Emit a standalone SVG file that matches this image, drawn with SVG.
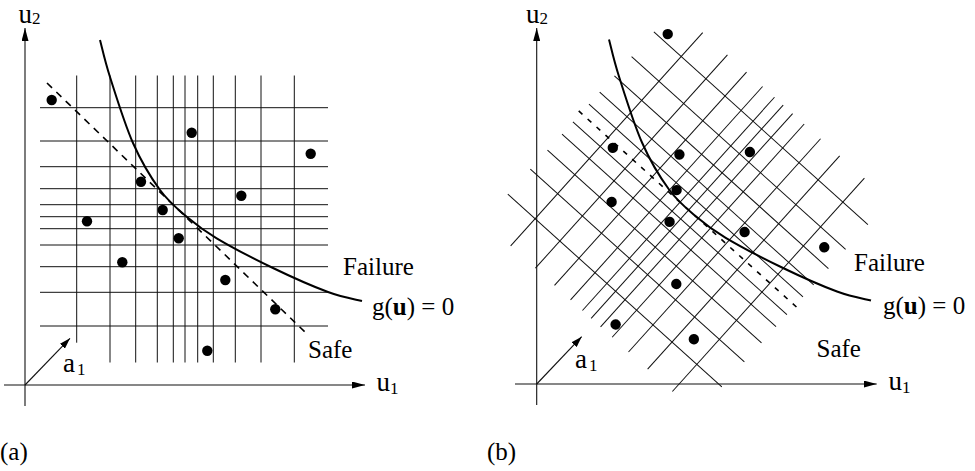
<svg xmlns="http://www.w3.org/2000/svg" width="975" height="471" viewBox="0 0 975 471">
<style>
.bg{fill:#fff}
.gl{stroke:#111;stroke-width:1;fill:none}
.ax{stroke:#111;stroke-width:1.1;fill:none}
.curve{stroke:#000;stroke-width:2;fill:none}
.dashL{stroke:#000;stroke-width:1.6;fill:none;stroke-dasharray:7 6}
.dashR{stroke:#000;stroke-width:1.6;fill:none;stroke-dasharray:5 7}
.dot{fill:#000}
text{font-family:"Liberation Serif","Times New Roman",serif;fill:#000}
.lbl{font-size:25px}
.var{font-size:27px}
.sub{font-size:17px}
</style>
<defs>
<marker id="arrow" viewBox="0 0 13 7" refX="13" refY="3.5" markerWidth="13" markerHeight="7" markerUnits="userSpaceOnUse" orient="auto">
<path d="M0,0 L13,3.5 L0,7 Z" fill="#000"/>
</marker>
<marker id="arrowS" viewBox="0 0 11 7" refX="11" refY="3.5" markerWidth="11" markerHeight="7" markerUnits="userSpaceOnUse" orient="auto">
<path d="M0,0 L11,3.5 L0,7 Z" fill="#000"/>
</marker>
<g id="gridlines" class="gl">
<line x1="110" y1="75.5" x2="110" y2="362.5"/>
<line x1="135.7" y1="75.5" x2="135.7" y2="362.5"/>
<line x1="157.3" y1="75.5" x2="157.3" y2="362.5"/>
<line x1="173.3" y1="75.5" x2="173.3" y2="362.5"/>
<line x1="185" y1="75.5" x2="185" y2="362.5"/>
<line x1="197.7" y1="75.5" x2="197.7" y2="362.5"/>
<line x1="213.3" y1="75.5" x2="213.3" y2="362.5"/>
<line x1="235.3" y1="75.5" x2="235.3" y2="362.5"/>
<line x1="261" y1="75.5" x2="261" y2="362.5"/>
<line x1="294.3" y1="75.5" x2="294.3" y2="362.5"/>
<line x1="40" y1="107.7" x2="328" y2="107.7"/>
<line x1="40" y1="141" x2="328" y2="141"/>
<line x1="40" y1="166.7" x2="328" y2="166.7"/>
<line x1="40" y1="188.7" x2="328" y2="188.7"/>
<line x1="40" y1="204.7" x2="328" y2="204.7"/>
<line x1="40" y1="228.7" x2="328" y2="228.7"/>
<line x1="40" y1="245" x2="328" y2="245"/>
<line x1="40" y1="266.7" x2="328" y2="266.7"/>
<line x1="40" y1="292.3" x2="328" y2="292.3"/>
<line x1="40" y1="326" x2="328" y2="326"/>
</g>
<g id="dots" class="dot">
<circle cx="51.7" cy="100" r="5.2"/>
<circle cx="191.7" cy="132.7" r="5.2"/>
<circle cx="310.7" cy="153.7" r="5.2"/>
<circle cx="141" cy="181.7" r="5.2"/>
<circle cx="241.3" cy="195.7" r="5.2"/>
<circle cx="162.7" cy="210" r="5.2"/>
<circle cx="87" cy="221.3" r="5.2"/>
<circle cx="178.7" cy="238.3" r="5.2"/>
<circle cx="122.3" cy="262.3" r="5.2"/>
<circle cx="225.3" cy="280" r="5.2"/>
<circle cx="275.3" cy="309.3" r="5.2"/>
<circle cx="207.3" cy="350.7" r="5.2"/>
</g>
<path id="limitcurve" d="M100,40 C101.7,46.2 104.5,59.8 110,77 C115.5,94.2 124.7,124.2 133,143 C141.3,161.8 151,177.7 160,190 C169,202.3 177.6,209 187,217 C196.5,225.1 202.4,229.8 216.7,238.3 C231,246.8 254.4,259 273,268 C291.6,277 313.2,286.5 328,292 C342.8,297.5 356.3,299.5 362,301"/>
</defs>
<rect class="bg" x="0" y="0" width="975" height="471"/>

<g id="panel-a">
<g id="grid-a">
<use href="#gridlines"/>
<line class="gl" x1="76.7" y1="75.5" x2="76.7" y2="342.7"/>
<line class="gl" x1="40" y1="216.7" x2="328" y2="216.7"/>
</g>
<use id="samples-a" href="#dots"/>
<line id="tangent-a" class="dashL" x1="47" y1="83" x2="306" y2="333"/>
<use id="limit-a" class="curve" href="#limitcurve"/>
<g id="axes-a">
<line class="ax" x1="25" y1="406" x2="25" y2="28" marker-end="url(#arrow)"/>
<line class="ax" x1="4" y1="385" x2="365" y2="385" marker-end="url(#arrow)"/>
<line class="ax" x1="25" y1="385" x2="70" y2="338.3" marker-end="url(#arrowS)"/>
</g>
<g id="labels-a">
<text class="var" font-family="Liberation Serif, serif" x="18.5" y="23">u<tspan class="sub" dy="1">2</tspan></text>
<text class="var" font-family="Liberation Serif, serif" x="376.5" y="391">u<tspan class="sub" dy="3">1</tspan></text>
<text class="var" font-family="Liberation Serif, serif" x="63" y="371.5">a<tspan class="sub" dy="3" dx="2">1</tspan></text>
<text class="lbl" font-family="Liberation Serif, serif" x="343" y="275">Failure</text>
<text class="lbl" font-family="Liberation Serif, serif" x="372" y="315">g(<tspan font-weight="bold">u</tspan>) = 0</text>
<text class="lbl" font-family="Liberation Serif, serif" x="308" y="358">Safe</text>
<text class="lbl" font-family="Liberation Serif, serif" font-size="22" x="0" y="460">(a)</text>
</g>
</g>

<g id="panel-b">
<g id="rotated-b" transform="translate(688.7,210) rotate(42) translate(-185,-216.7)">
<g id="grid-b">
<use href="#gridlines"/>
<line class="gl" x1="76.7" y1="75.5" x2="76.7" y2="362.5"/>
</g>
<line id="tangent-b" class="dashR" x1="37" y1="216.7" x2="330" y2="216.7"/>
<use id="samples-b" href="#dots"/>
</g>
<use id="limit-b" class="curve" href="#limitcurve" transform="translate(509,-0.5)"/>
<g id="axes-b">
<line class="ax" x1="536.7" y1="405" x2="536.7" y2="28" marker-end="url(#arrow)"/>
<line class="ax" x1="515" y1="384" x2="876.7" y2="384" marker-end="url(#arrow)"/>
<line class="ax" x1="536.7" y1="384" x2="581.7" y2="336.7" marker-end="url(#arrowS)"/>
</g>
<g id="labels-b">
<text class="var" font-family="Liberation Serif, serif" x="526" y="23">u<tspan class="sub" dy="1">2</tspan></text>
<text class="var" font-family="Liberation Serif, serif" x="888.5" y="390">u<tspan class="sub" dy="3">1</tspan></text>
<text class="var" font-family="Liberation Serif, serif" x="575" y="367.5">a<tspan class="sub" dy="3" dx="2">1</tspan></text>
<text class="lbl" font-family="Liberation Serif, serif" x="854" y="270.7">Failure</text>
<text class="lbl" font-family="Liberation Serif, serif" x="883" y="313.5">g(<tspan font-weight="bold">u</tspan>) = 0</text>
<text class="lbl" font-family="Liberation Serif, serif" x="816.5" y="356.7">Safe</text>
<text class="lbl" font-family="Liberation Serif, serif" font-size="22" x="487" y="460">(b)</text>
</g>
</g>
</svg>
